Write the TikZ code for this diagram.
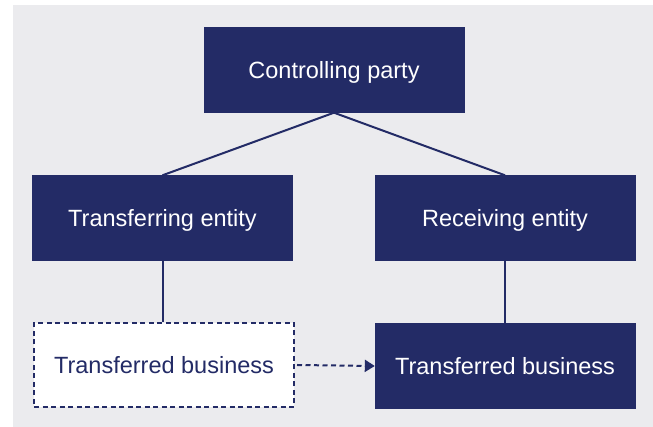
\documentclass[tikz,border=0pt]{standalone}
\usepackage{fontspec}
\setmainfont{Liberation Sans}
\usepackage{xcolor}
\usetikzlibrary{arrows.meta,positioning,calc}

\definecolor{navy}{RGB}{35,43,102}
\definecolor{panelgrey}{RGB}{235,235,238}

\tikzset{
    entitybox/.style={draw=navy,rectangle,fill=navy,text=white,minimum width=260pt,minimum height=85pt,inner sep=0pt,text depth=0pt,yshift=-1pt,font=\fontsize{23.5}{28}\selectfont},
    ghostbox/.style={draw=navy,rectangle,fill=white,text=navy,dash pattern=on 5pt off 3.5pt,line width=2pt,minimum width=260pt,minimum height=84pt,inner sep=0pt,font=\fontsize{23.5}{28}\selectfont},
    link/.style={draw=navy,line width=2pt}
}

\begin{document}
\begin{tikzpicture}[x=1pt,y=1pt]
    \useasboundingbox (0,0) rectangle (653,427);
    \fill[panelgrey] (13,0) rectangle (653,422);

    \node[entitybox] (controlling) at (334,358) {Controlling party};

    \node[entitybox] (transferring) at (162.5,210) {Transferring entity};
    \node[entitybox] (receiving) at (505,210) {Receiving entity};

    \node[ghostbox] (oldbusiness) at (164,62) {Transferred business};
    \node[entitybox] (newbusiness) at (505,62) {Transferred business};

    \draw[link] (controlling.south) -- (transferring.north);
    \draw[link] (controlling.south) -- (receiving.north);

    \draw[link] (transferring.south) -- (transferring.south |- oldbusiness.north);
    \draw[link] (receiving.south) -- (newbusiness.north);

    \draw[link,dash pattern=on 5pt off 3.5pt,-{Triangle[length=10pt,width=12pt]}] ($(oldbusiness.east)+(2,0)$) -- (newbusiness.west);
\end{tikzpicture}
\end{document}
